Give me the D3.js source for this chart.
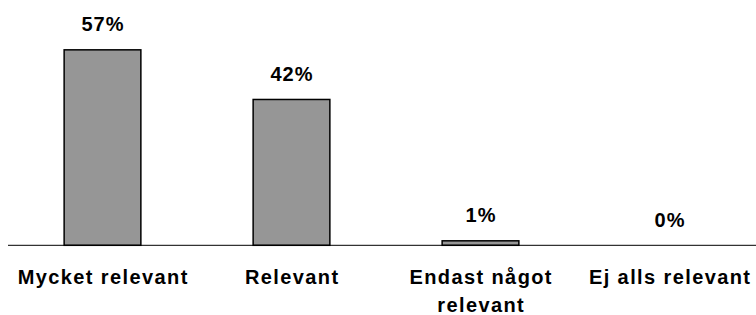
<!DOCTYPE html>
<html>
<head>
<meta charset="utf-8"/>
<script src="https://d3js.org/d3.v7.min.js"></script>
<style>
  body { margin: 0; background: white; }
  text { font-family: Arial, "Liberation Sans", sans-serif; font-weight: bold; fill: #000; }
</style>
</head>
<body>
<div id="chart"></div>
<script>
// data
var categories = ["Mycket relevant", "Relevant", "Endast något relevant", "Ej alls relevant"];
var values = [56.7, 42.3, 1.3, 0];

var width = 756, height = 315;
var baseY = 245.3;

var svg = d3.select("#chart").append("svg")
    .attr("width", width)
    .attr("height", height);

var x = d3.scaleBand()
    .domain(categories)
    .range([8, 764])
    .paddingInner(0.594)
    .paddingOuter(0.297);

var y = d3.scaleLinear()
    .domain([0, 57])
    .range([baseY, baseY - 196.5]);

var data = categories.map(function(c, i) { return {cat: c, val: values[i]}; });

// bars (skip zero ones, nothing to draw)
svg.selectAll(".bar")
    .data(data.filter(function(d) { return d.val > 0; }))
  .enter().append("rect")
    .attr("class", "bar")
    .attr("x", function(d) { return x(d.cat); })
    .attr("y", function(d) { return y(d.val); })
    .attr("width", x.bandwidth())
    .attr("height", function(d) { return y(0) - y(d.val); })
    .style("fill", "#969696")
    .style("stroke", "#000")
    .style("stroke-width", 1.5);

// baseline
svg.append("line")
    .attr("x1", 8).attr("x2", width)
    .attr("y1", y(0)).attr("y2", y(0))
    .style("stroke", "#000")
    .style("stroke-width", 1);

// value labels
svg.selectAll(".val")
    .data(data)
  .enter().append("text")
    .attr("class", "val")
    .attr("x", function(d) { return x(d.cat) + x.bandwidth() / 2 + 0.5; })
    .attr("y", function(d) { return y(d.val) - 18.5; })
    .attr("text-anchor", "middle")
    .style("font-size", "20px")
    .style("letter-spacing", "1px")
    .text(function(d) { return Math.round(d.val) + "%"; });

// category labels, wrapped to the band width
var step = x.step();
var cat = svg.selectAll(".cat")
    .data(data)
  .enter().append("text")
    .attr("class", "cat")
    .attr("x", function(d) { return x(d.cat) + x.bandwidth() / 2 + 0.7; })
    .attr("y", 284)
    .attr("text-anchor", "middle")
    .style("font-size", "20px")
    .style("letter-spacing", "1.4px")
    .text(function(d) { return d.cat; });

cat.each(function(d) {
  var t = d3.select(this);
  if (this.getComputedTextLength() <= step) return;
  var words = d.cat.split(" ");
  var cx = t.attr("x");
  t.text(null);
  var line = [];
  var tspan = t.append("tspan").attr("x", cx).attr("dy", 0);
  words.forEach(function(w) {
    line.push(w);
    tspan.text(line.join(" "));
    if (tspan.node().getComputedTextLength() > step - 20 && line.length > 1) {
      line.pop();
      tspan.text(line.join(" "));
      line = [w];
      tspan = t.append("tspan").attr("x", cx).attr("dy", 28).text(w);
    }
  });
});
</script>
</body>
</html>
